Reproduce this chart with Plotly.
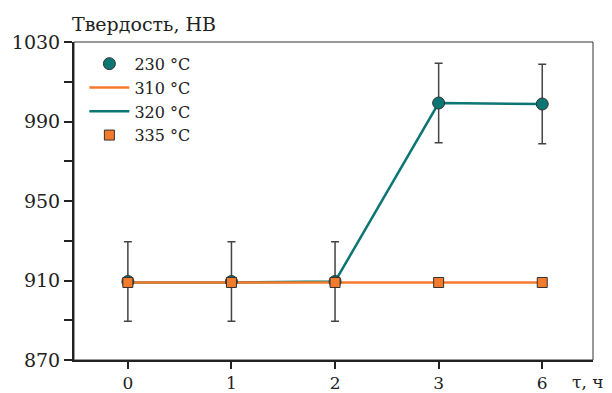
import plotly.graph_objects as go

x_labels = ["0", "1", "2", "3", "6"]
x_pos = [0, 1, 2, 3, 4]
s230 = [909.5, 909.5, 909.5, 999.3, 998.8]
s230_err = [20, 20, 20, 20, 20]
s310 = [909.0, 909.0, 909.0, 909.0, 909.0]
s320 = [909.0, 909.0, 909.5, 999.3, 998.8]
s335 = [909.0, 909.0, 909.0, 909.0, 909.0]

TEAL = "#0b7673"
ORANGE = "#f47a2c"
FONT = "DejaVu Serif, Liberation Serif, serif"

fig = go.Figure()
fig.add_trace(go.Scatter(x=x_pos, y=s320, mode="lines", name="320 °C",
                         line=dict(color=TEAL, width=2.5), legendrank=3))
fig.add_trace(go.Scatter(x=x_pos, y=s310, mode="lines", name="310 °C",
                         line=dict(color=ORANGE, width=2.5), legendrank=2))
fig.add_trace(go.Scatter(x=x_pos, y=s230, mode="markers", name="230 °C",
                         marker=dict(color=TEAL, size=12, symbol="circle",
                                     line=dict(color="#333333", width=1)),
                         error_y=dict(type="data", array=s230_err, visible=True,
                                      color="#444444", thickness=1.5, width=4),
                         legendrank=1))
fig.add_trace(go.Scatter(x=x_pos, y=s335, mode="markers", name="335 °C",
                         marker=dict(color=ORANGE, size=10, symbol="square",
                                     line=dict(color="#333333", width=1)),
                         legendrank=4))

fig.update_layout(
    width=612, height=393,
    margin=dict(l=74, r=19, t=42, b=33, autoexpand=False),
    paper_bgcolor="white", plot_bgcolor="white",
    font=dict(family=FONT, color="#222222", size=17),
    showlegend=True,
    legend=dict(x=0.02, y=0.985, xanchor="left", yanchor="top",
                font=dict(family=FONT, size=16, color="#222222"),
                bgcolor="rgba(0,0,0,0)", tracegroupgap=0, itemwidth=40),
    xaxis=dict(range=[-0.52, 4.49], tickmode="array", tickvals=x_pos,
               ticktext=x_labels, showgrid=False, zeroline=False,
               automargin=False,
               showline=True, linecolor="#222222", linewidth=2,
               ticks="outside", ticklen=7, tickwidth=2, tickcolor="#222222",
               tickfont=dict(family=FONT, size=17, color="#222222")),
    yaxis=dict(range=[870, 1030], tickmode="array",
               tickvals=[870, 910, 950, 990, 1030], showgrid=False,
               automargin=False,
               zeroline=False, showline=True, linecolor="#222222", linewidth=2,
               ticks="outside", ticklen=8, tickwidth=2, tickcolor="#222222",
               tickfont=dict(family=FONT, size=19, color="#222222"),
               minor=dict(tickvals=[890, 930, 970, 1010], ticks="outside",
                          ticklen=8, tickwidth=2, tickcolor="#222222")),
    shapes=[dict(type="rect", xref="paper", yref="paper", x0=0, x1=1, y0=0, y1=1,
                 line=dict(color="#333333", width=1), layer="below")],
    annotations=[
        dict(text="Твердость, НВ", xref="paper", yref="paper", x=-0.008, y=1.0,
             xanchor="left", yanchor="bottom", showarrow=False, yshift=5,
             font=dict(family=FONT, size=19, color="#222222")),
        dict(text="τ, ч", xref="paper", yref="paper", x=0.955, y=0,
             xanchor="left", yanchor="top", showarrow=False, yshift=-10,
             font=dict(family=FONT, size=17, color="#222222")),
    ],
)

fig.write_html("out.html")
